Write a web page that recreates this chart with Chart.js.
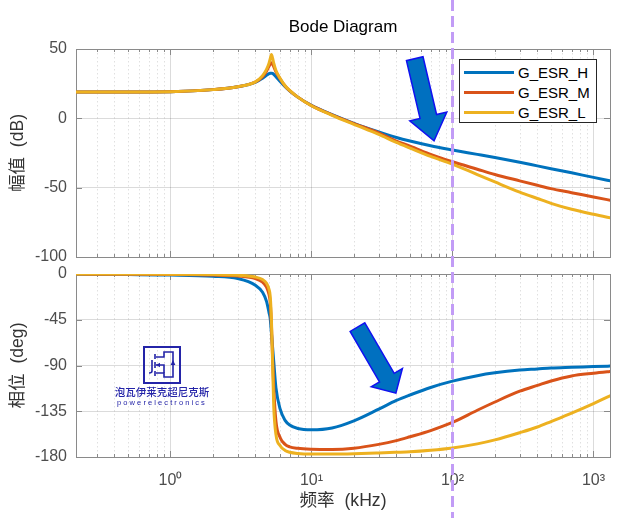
<!DOCTYPE html>
<html lang="zh">
<head>
<meta charset="utf-8">
<title>Bode Diagram</title>
<script src="https://cdn.jsdelivr.net/npm/chart.js@4.4.0/dist/chart.umd.min.js"></script>
<style>
  body { margin: 0; background: #fff; }
  #fig { position: relative; width: 620px; height: 518px; overflow: hidden; font-family: "Liberation Sans", Arial, sans-serif; }
  #fig canvas { position: absolute; left: 0; top: 0; }
  #title { position: absolute; left: 76px; width: 534px; top: 17px; line-height: 20px; text-align: center; font-size: 17px; color: #000; z-index: 3; }
  #legend { position: absolute; left: 459px; top: 59px; width: 138px; height: 64px; box-sizing: border-box; border: 1px solid #262626; background: #fff; padding-top: 2px; z-index: 3; }
  .item { height: 20px; display: flex; align-items: center; font-size: 15px; color: #000; }
  .swatch { width: 50px; height: 3px; margin: 0 4px 0 4px; }
  #logo-mark { position: absolute; left: 143px; top: 346px; z-index: 3; }
  #logo-cn { position: absolute; left: 102px; width: 120px; top: 385px; text-align: center; font-family: "Noto Sans CJK SC", sans-serif; font-size: 10.5px; font-weight: 500; line-height: 13px; color: #2424a8; z-index: 3; }
  #logo-en { position: absolute; left: 102px; width: 120px; top: 398px; text-align: center; font-size: 7.5px; line-height: 9px; letter-spacing: 2.1px; color: #2424a8; z-index: 3; }
</style>
</head>
<body>
<div id="fig">
  <canvas id="mag" width="620" height="518"></canvas>
  <canvas id="phase" width="620" height="518"></canvas>
  <div id="title">Bode Diagram</div>
  <div id="legend"></div>
  <svg id="logo-mark" width="38" height="38" viewBox="0 0 38 38">
    <rect x="1" y="1" width="36" height="36" fill="none" stroke="#2424a8" stroke-width="2"/>
    <g fill="none" stroke="#2424a8" stroke-width="1.6">
      <path d="M13 11 H21 V6 H30 V31 H21 V27 H13"/>
      <path d="M13 19 H21 V27"/>
      <path d="M12 8 V13 M12 16 V22 M12 25 V30"/>
      <path d="M9 14 V25 Q9 27 6 27"/>
    </g>
    <polygon points="13,19 17,16.8 17,21.2" fill="#2424a8"/>
    <polygon points="30,14 27.6,19 32.4,19" fill="#2424a8"/>
  </svg>
  <div id="logo-cn">泡瓦伊莱克超尼克斯</div>
  <div id="logo-en">powerelectronics</div>
</div>
<script>
// frequency in kHz, shared by all curves
const freqKHz = [0.2, 0.5, 1, 2, 3, 4, 4.5, 4.8, 5.0, 5.1, 5.2, 5.3, 5.4, 5.6, 6, 6.5, 7, 8, 10, 14,
  20, 30, 40, 50, 70, 100, 150, 200, 300, 400, 500, 700, 1000, 1400];

// magnitude (dB)
const magH = [19, 19, 19.2, 20.7, 22.8, 26, 29, 31, 32.2, 32.5, 32.6, 32.4, 31.7, 30, 26.5, 22.8, 19.8, 15.3, 9.3, 2.6,
  -3.6, -9.8, -13.8, -16.4, -19.8, -22.8, -26, -28.3, -31.7, -34.3, -36.3, -39.3, -42.6, -45.6];
const magM = [19, 19, 19.2, 20.7, 22.8, 26.2, 30, 34, 37.5, 39, 40, 39, 37.3, 33.5, 28.4, 23.3, 20, 15.3, 9.2, 2.5,
  -3.8, -10.5, -16.5, -20, -26, -31.3, -36.7, -40.5, -45.1, -48.3, -50.7, -53.6, -56.7, -59.6];
const magL = [19, 19, 19.2, 20.7, 22.8, 26.3, 30.8, 35.3, 39.8, 43, 46, 43.4, 39.8, 34.5, 28.7, 23.5, 20.1, 15.3, 9.1, 2.2,
  -4.3, -11.5, -17.4, -21.5, -27.5, -33, -40.6, -45.9, -53.2, -57.8, -61.3, -65.6, -69.2, -72.3];

// phase (deg)
const phaseH = [-0.3, -0.6, -1, -2.2, -4.5, -11, -18, -27, -38, -44, -58, -72, -86, -112, -133, -144, -148.5, -152, -153.3, -151.5,
  -144.5, -133, -124.4, -119, -111.6, -105.4, -100, -97.2, -94.5, -93.4, -92.5, -91.8, -91.1, -90.4];
const phaseM = [-0.1, -0.2, -0.4, -1, -2, -4.5, -8, -13, -20, -28, -50, -82, -112, -145, -161, -167.5, -170, -171.5, -172.3, -172.5,
  -171.3, -167.6, -163.9, -160.1, -154, -146, -134, -125.9, -115.3, -109.6, -105.2, -100.3, -97.6, -95.5];
const phaseL = [0, -0.1, -0.2, -0.6, -1.2, -3, -5.5, -9, -15, -22, -45, -88, -130, -158, -169, -173.5, -175.3, -176.5, -177, -177,
  -176.7, -176, -175.4, -174.9, -173.4, -171.1, -167.1, -163.2, -156.1, -150.5, -145.1, -136.8, -127.4, -118];

const seriesNames = ['G_ESR_H', 'G_ESR_M', 'G_ESR_L'];
const seriesColors = ['#0072BD', '#D95319', '#EDB120'];

// axis ticks
const decadeValues = [1, 10, 100, 1000];
const decadeLabels = ['10\u2070', '10\u00B9', '10\u00B2', '10\u00B3'];
const magTicks = [-100, -50, 0, 50];
const phaseTicks = [-180, -135, -90, -45, 0];
const xMin = 0.2138, xMax = 1310;
const markerFreq = 100;

// annotation arrows, given in data units
const magArrow = { from: [54, 43], to: [74, -16.2], shaft: 17, head: 38, headLen: 25 };
const phaseArrow = { from: [21.2, -52.3], to: [39.7, -117.2], shaft: 17, head: 36, headLen: 18 };

const FONT = '"Liberation Sans", Arial, "Noto Sans CJK SC", sans-serif';
const TICK_COLOR = '#4d4d4d';

function isDecade(v) {
  return decadeValues.some(d => Math.abs(v - d) < 1e-9);
}

function logTicks() {
  const out = [];
  [0.1, 1, 10, 100].forEach(d => {
    for (let k = 1; k <= 9; k++) {
      const v = +(k * d).toPrecision(6);
      if (v >= xMin && v <= xMax) out.push({ value: v });
    }
  });
  out.push({ value: 1000 });
  return out;
}

function makeDatasets(values) {
  return values.map((vals, i) => ({
    label: seriesNames[i],
    data: freqKHz.map((f, j) => ({ x: f, y: vals[j] })),
    borderColor: seriesColors[i],
    backgroundColor: seriesColors[i],
    borderWidth: 3,
    pointRadius: 0,
    fill: false,
    cubicInterpolationMode: 'monotone',
    order: 2 - i
  }));
}

// box round the plot, inward ticks and dotted minor grid
const framePlugin = {
  id: 'frame',
  beforeDatasetsDraw(chart) {
    const { ctx, chartArea: a, scales } = chart;
    ctx.save();
    ctx.strokeStyle = 'rgba(0,0,0,0.12)';
    ctx.lineWidth = 1;
    ctx.setLineDash([1.5, 2.5]);
    ctx.beginPath();
    scales.x.ticks.forEach(t => {
      if (isDecade(t.value)) return;
      const px = Math.round(scales.x.getPixelForValue(t.value)) + 0.5;
      ctx.moveTo(px, a.top);
      ctx.lineTo(px, a.bottom);
    });
    ctx.stroke();
    ctx.setLineDash([]);
    ctx.strokeStyle = '#8a8a8a';
    ctx.beginPath();
    scales.x.ticks.forEach(t => {
      const px = Math.round(scales.x.getPixelForValue(t.value)) + 0.5;
      const len = isDecade(t.value) ? 6 : 3;
      ctx.moveTo(px, a.top); ctx.lineTo(px, a.top + len);
      ctx.moveTo(px, a.bottom); ctx.lineTo(px, a.bottom - len);
    });
    scales.y.ticks.forEach(t => {
      const py = Math.round(scales.y.getPixelForValue(t.value)) + 0.5;
      ctx.moveTo(a.left, py); ctx.lineTo(a.left + 6, py);
      ctx.moveTo(a.right, py); ctx.lineTo(a.right - 6, py);
    });
    ctx.stroke();
    ctx.strokeRect(Math.round(a.left) + 0.5, Math.round(a.top) + 0.5,
      Math.round(a.right - a.left), Math.round(a.bottom - a.top));
    ctx.restore();
  }
};

const arrowPlugin = {
  id: 'arrow',
  afterDatasetsDraw(chart, args, opts) {
    const ar = opts.shape;
    if (!ar) return;
    const { ctx } = chart;
    const { x, y } = chart.scales;
    const x0 = x.getPixelForValue(ar.from[0]), y0 = y.getPixelForValue(ar.from[1]);
    const x1 = x.getPixelForValue(ar.to[0]), y1 = y.getPixelForValue(ar.to[1]);
    const len = Math.hypot(x1 - x0, y1 - y0);
    const ux = (x1 - x0) / len, uy = (y1 - y0) / len;
    const nx = -uy, ny = ux;
    const sw = ar.shaft / 2, hw = ar.head / 2, hb = len - ar.headLen;
    const pts = [[-sw, 0], [-sw, hb], [-hw, hb], [0, len], [hw, hb], [sw, hb], [sw, 0]];
    ctx.save();
    ctx.beginPath();
    pts.forEach(([n, s], i) => {
      const px = x0 + ux * s + nx * n, py = y0 + uy * s + ny * n;
      if (i) ctx.lineTo(px, py); else ctx.moveTo(px, py);
    });
    ctx.closePath();
    ctx.fillStyle = '#0070C0';
    ctx.fill();
    ctx.lineWidth = 1.5;
    ctx.lineJoin = 'miter';
    ctx.strokeStyle = '#1010f0';
    ctx.stroke();
    ctx.restore();
  }
};

// dashed marker at 100 kHz over the whole figure
const markerPlugin = {
  id: 'marker',
  afterDraw(chart) {
    const { ctx } = chart;
    const px = Math.round(chart.scales.x.getPixelForValue(markerFreq)) + 0.5;
    ctx.save();
    ctx.strokeStyle = '#c29cf6';
    ctx.lineWidth = 3;
    ctx.setLineDash([11, 5]);
    ctx.beginPath();
    ctx.moveTo(px, 0);
    ctx.lineTo(px, chart.height);
    ctx.stroke();
    ctx.restore();
  }
};

function xScale(showLabels) {
  return {
    type: 'logarithmic',
    min: xMin,
    max: xMax,
    afterBuildTicks: s => { s.ticks = logTicks(); },
    afterFit: s => { s.height = showLabels ? 61 : 0; },
    border: { display: false },
    grid: {
      drawTicks: false,
      color: c => (c.tick && isDecade(c.tick.value)) ? 'rgba(0,0,0,0.14)' : 'rgba(0,0,0,0)'
    },
    ticks: {
      display: showLabels,
      autoSkip: false,
      maxRotation: 0,
      padding: 14,
      color: TICK_COLOR,
      font: { family: FONT, size: 16 },
      callback: v => {
        const i = decadeValues.findIndex(d => Math.abs(v - d) < 1e-9);
        return i >= 0 ? decadeLabels[i] : '';
      }
    },
    title: {
      display: showLabels,
      text: '频率  (kHz)',
      color: '#333',
      font: { family: FONT, size: 17.6 },
      padding: { top: 0, bottom: 6 }
    }
  };
}

function yScale(min, max, tickList, label) {
  return {
    min: min,
    max: max,
    afterBuildTicks: s => { s.ticks = tickList.map(v => ({ value: v })); },
    afterFit: s => { s.width = 76; },
    border: { display: false },
    grid: { drawTicks: false, color: 'rgba(0,0,0,0.14)' },
    ticks: {
      padding: 9,
      color: TICK_COLOR,
      font: { family: FONT, size: 16 },
      callback: v => String(v)
    },
    title: {
      display: true,
      text: label,
      color: '#333',
      font: { family: FONT, size: 17.6 },
      padding: { top: 8, bottom: 0 }
    }
  };
}

function baseOptions(padTop, padBottom, yOpts, showX, arrow) {
  return {
    responsive: false,
    animation: false,
    devicePixelRatio: 1,
    layout: { padding: { top: padTop, bottom: padBottom, left: 0, right: 10 } },
    plugins: {
      legend: { display: false },
      tooltip: { enabled: false },
      arrow: { shape: arrow }
    },
    scales: { x: xScale(showX), y: yOpts }
  };
}

const magChart = new Chart(document.getElementById('mag'), {
  type: 'line',
  data: { datasets: makeDatasets([magH, magM, magL]) },
  options: baseOptions(49, 261, yScale(-100, 50, magTicks, '幅值  (dB)'), false, magArrow),
  plugins: [framePlugin, arrowPlugin]
});

new Chart(document.getElementById('phase'), {
  type: 'line',
  data: { datasets: makeDatasets([phaseH, phaseM, phaseL]) },
  options: baseOptions(274, 0, yScale(-180, 0, phaseTicks, '相位  (deg)'), true, phaseArrow),
  plugins: [framePlugin, arrowPlugin, markerPlugin]
});

// legend built from the datasets
const legend = document.getElementById('legend');
magChart.data.datasets.forEach(ds => {
  const row = document.createElement('div');
  row.className = 'item';
  const sw = document.createElement('span');
  sw.className = 'swatch';
  sw.style.background = ds.borderColor;
  const txt = document.createElement('span');
  txt.textContent = ds.label;
  row.appendChild(sw);
  row.appendChild(txt);
  legend.appendChild(row);
});
</script>
</body>
</html>
